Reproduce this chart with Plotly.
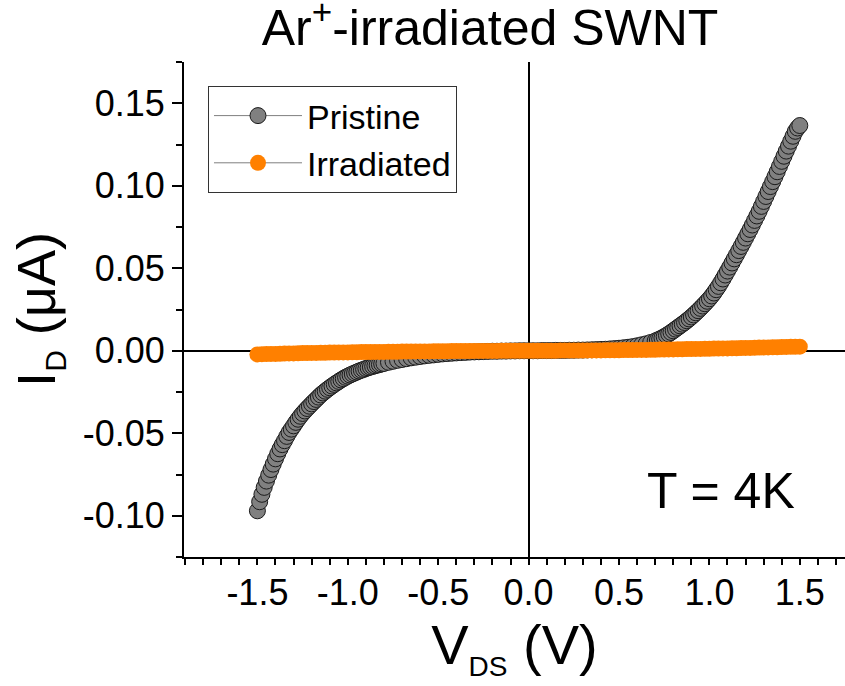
import plotly.graph_objects as go

# ---------------- data ----------------
# Pristine SWNT: sampled densely on the steep branches, coarser where flat
v_pristine = [
    -1.5000, -1.4875, -1.4750, -1.4625, -1.4500, -1.4375, -1.4250, -1.4125, -1.4000, -1.3875,
    -1.3750, -1.3625, -1.3500, -1.3375, -1.3250, -1.3125, -1.3000, -1.2875, -1.2750, -1.2625,
    -1.2500, -1.2375, -1.2250, -1.2125, -1.2000, -1.1875, -1.1750, -1.1625, -1.1500, -1.1375,
    -1.1250, -1.1125, -1.1000, -1.0875, -1.0750, -1.0625, -1.0500, -1.0375, -1.0250, -1.0125,
    -1.0000, -0.9875, -0.9750, -0.9625, -0.9500, -0.9375, -0.9250, -0.9125, -0.9000, -0.8875,
    -0.8750, -0.8625, -0.8500, -0.8375, -0.8250, -0.8125, -0.8000,
    -0.775, -0.750, -0.725, -0.700, -0.675, -0.650, -0.625, -0.600, -0.575, -0.550,
    -0.525, -0.500, -0.475, -0.450, -0.425, -0.400, -0.375, -0.350, -0.325, -0.300,
    -0.275, -0.250, -0.225, -0.200, -0.175, -0.150, -0.125, -0.100, -0.075, -0.050,
    -0.025, 0.000, 0.025, 0.050, 0.075, 0.100, 0.125, 0.150, 0.175, 0.200,
    0.225, 0.250, 0.275, 0.300, 0.325, 0.350, 0.375, 0.400, 0.425, 0.450,
    0.475, 0.500, 0.525, 0.550, 0.575, 0.600, 0.625, 0.650, 0.675,
    0.7000, 0.7125, 0.7250, 0.7375, 0.7500, 0.7625, 0.7750, 0.7875, 0.8000, 0.8125,
    0.8250, 0.8375, 0.8500, 0.8625, 0.8750, 0.8875, 0.9000, 0.9125, 0.9250, 0.9375,
    0.9500, 0.9625, 0.9750, 0.9875, 1.0000, 1.0125, 1.0250, 1.0375, 1.0500, 1.0625,
    1.0750, 1.0875, 1.1000, 1.1125, 1.1250, 1.1375, 1.1500, 1.1625, 1.1750, 1.1875,
    1.2000, 1.2125, 1.2250, 1.2375, 1.2500, 1.2625, 1.2750, 1.2875, 1.3000, 1.3125,
    1.3250, 1.3375, 1.3500, 1.3625, 1.3750, 1.3875, 1.4000, 1.4125, 1.4250, 1.4375,
    1.4500, 1.4625, 1.4750, 1.4875, 1.5000,
]

i_pristine = [
    -0.0970, -0.0915, -0.0870, -0.0828, -0.0790, -0.0754, -0.0720, -0.0687, -0.0655, -0.0624,
    -0.0595, -0.0569, -0.0545, -0.0519, -0.0495, -0.0475, -0.0455, -0.0434, -0.0415, -0.0397,
    -0.0380, -0.0365, -0.0350, -0.0336, -0.0322, -0.0308, -0.0295, -0.0281, -0.0268, -0.0256,
    -0.0245, -0.0234, -0.0224, -0.0214, -0.0204, -0.0195, -0.0186, -0.0177, -0.0169, -0.0161,
    -0.0154, -0.0147, -0.0141, -0.0135, -0.0129, -0.0123, -0.0118, -0.0113, -0.0108, -0.0103,
    -0.0099, -0.0095, -0.0091, -0.0087, -0.0084, -0.0080, -0.0077,
    -0.0070, -0.0064, -0.0058, -0.0053, -0.0048, -0.0043, -0.0039, -0.0035, -0.0031, -0.0028,
    -0.0025, -0.0022, -0.0019, -0.0017, -0.0015, -0.0013, -0.0011, -0.0010, -0.0008, -0.0007,
    -0.0006, -0.0005, -0.0004, -0.0003, -0.0003, -0.0002, -0.0002, -0.0001, -0.0001, 0.0000,
    0.0000, 0.0000, 0.0000, 0.0000, 0.0001, 0.0001, 0.0001, 0.0002, 0.0002, 0.0002,
    0.0003, 0.0003, 0.0004, 0.0004, 0.0005, 0.0006, 0.0007, 0.0008, 0.0009, 0.0011,
    0.0013, 0.0015, 0.0018, 0.0021, 0.0025, 0.0030, 0.0036, 0.0042, 0.0050,
    0.0059, 0.0065, 0.0071, 0.0078, 0.0085, 0.0093, 0.0102, 0.0111, 0.0121, 0.0131,
    0.0141, 0.0151, 0.0161, 0.0171, 0.0182, 0.0193, 0.0205, 0.0217, 0.0230, 0.0243,
    0.0257, 0.0271, 0.0285, 0.0300, 0.0315, 0.0332, 0.0350, 0.0370, 0.0390, 0.0412,
    0.0435, 0.0459, 0.0483, 0.0507, 0.0532, 0.0557, 0.0582, 0.0607, 0.0632, 0.0657,
    0.0683, 0.0709, 0.0735, 0.0762, 0.0790, 0.0817, 0.0845, 0.0875, 0.0905, 0.0935,
    0.0965, 0.0995, 0.1025, 0.1055, 0.1085, 0.1117, 0.1148, 0.1179, 0.1210, 0.1240,
    0.1270, 0.1300, 0.1330, 0.1350, 0.1365,
]

# Irradiated SWNT
v_irradiated = [
    -1.500, -1.475, -1.450, -1.425, -1.400, -1.375, -1.350, -1.325, -1.300, -1.275,
    -1.250, -1.225, -1.200, -1.175, -1.150, -1.125, -1.100, -1.075, -1.050, -1.025,
    -1.000, -0.975, -0.950, -0.925, -0.900, -0.875, -0.850, -0.825, -0.800, -0.775,
    -0.750, -0.725, -0.700, -0.675, -0.650, -0.625, -0.600, -0.575, -0.550, -0.525,
    -0.500, -0.475, -0.450, -0.425, -0.400, -0.375, -0.350, -0.325, -0.300, -0.275,
    -0.250, -0.225, -0.200, -0.175, -0.150, -0.125, -0.100, -0.075, -0.050, -0.025,
    0.000, 0.025, 0.050, 0.075, 0.100, 0.125, 0.150, 0.175, 0.200, 0.225,
    0.250, 0.275, 0.300, 0.325, 0.350, 0.375, 0.400, 0.425, 0.450, 0.475,
    0.500, 0.525, 0.550, 0.575, 0.600, 0.625, 0.650, 0.675, 0.700, 0.725,
    0.750, 0.775, 0.800, 0.825, 0.850, 0.875, 0.900, 0.925, 0.950, 0.975,
    1.000, 1.025, 1.050, 1.075, 1.100, 1.125, 1.150, 1.175, 1.200, 1.225,
    1.250, 1.275, 1.300, 1.325, 1.350, 1.375, 1.400, 1.425, 1.450, 1.475,
    1.500,
]

i_irradiated = [
    -0.0022, -0.0021, -0.0020, -0.0019, -0.0019, -0.0018, -0.0017, -0.0016, -0.0016, -0.0015,
    -0.0014, -0.0014, -0.0013, -0.0013, -0.0012, -0.0012, -0.0011, -0.0011, -0.0010, -0.0010,
    -0.0010, -0.0009, -0.0009, -0.0008, -0.0008, -0.0008, -0.0007, -0.0007, -0.0007, -0.0006,
    -0.0006, -0.0006, -0.0005, -0.0005, -0.0005, -0.0004, -0.0004, -0.0004, -0.0004, -0.0003,
    -0.0003, -0.0003, -0.0003, -0.0002, -0.0002, -0.0002, -0.0002, -0.0002, -0.0001, -0.0001,
    -0.0001, -0.0001, -0.0001, -0.0001, 0.0000, 0.0000, 0.0000, 0.0000, 0.0000, 0.0000,
    0.0000, 0.0000, 0.0000, 0.0000, 0.0000, 0.0000, 0.0000, 0.0001, 0.0001, 0.0001,
    0.0001, 0.0001, 0.0001, 0.0002, 0.0002, 0.0002, 0.0002, 0.0003, 0.0003, 0.0003,
    0.0003, 0.0004, 0.0004, 0.0004, 0.0005, 0.0005, 0.0005, 0.0006, 0.0006, 0.0007,
    0.0007, 0.0008, 0.0008, 0.0009, 0.0009, 0.0010, 0.0010, 0.0011, 0.0011, 0.0012,
    0.0012, 0.0013, 0.0013, 0.0014, 0.0014, 0.0015, 0.0015, 0.0016, 0.0017, 0.0017,
    0.0018, 0.0019, 0.0019, 0.0020, 0.0021, 0.0021, 0.0022, 0.0023, 0.0024, 0.0024,
    0.0025,
]

series_names = ["Pristine", "Irradiated"]

x_tick_vals = [-1.5, -1.0, -0.5, 0.0, 0.5, 1.0, 1.5]
x_tick_text = ["-1.5", "-1.0", "-0.5", "0.0", "0.5", "1.0", "1.5"]
y_tick_vals = [-0.10, -0.05, 0.00, 0.05, 0.10, 0.15]
y_tick_text = ["-0.10", "-0.05", "0.00", "0.05", "0.10", "0.15"]

X_RANGE = [-1.906, 1.75]
Y_RANGE = [-0.125, 0.175]

# ---------------- figure ----------------
FONT = "Liberation Sans, Arial, Helvetica, sans-serif"

fig = go.Figure()
fig.add_trace(go.Scatter(
    x=v_pristine, y=i_pristine, name=series_names[0], mode="lines+markers",
    line=dict(color="#7f7f7f", width=1),
    marker=dict(size=16, color="#808080", line=dict(color="#1a1a1a", width=1)),
))
fig.add_trace(go.Scatter(
    x=v_irradiated, y=i_irradiated, name=series_names[1], mode="lines+markers",
    line=dict(color="#7f7f7f", width=1),
    marker=dict(size=16, color="#FF8000", line=dict(width=0)),
))

fig.update_layout(
    width=845, height=686,
    margin=dict(l=184, r=0, t=62, b=129),
    paper_bgcolor="white", plot_bgcolor="white",
    font=dict(family=FONT, color="black"),
    showlegend=True,
    legend=dict(
        x=0.0363, y=0.9515, xanchor="left", yanchor="top",
        bordercolor="#333333", borderwidth=1, bgcolor="white",
        font=dict(family=FONT, size=34, color="black"),
        itemwidth=88, tracegroupgap=0,
    ),
    title=dict(
        text="Ar<sup>+</sup>-irradiated SWNT",
        font=dict(family=FONT, size=50, color="black"),
        x=0.463, xref="paper", xanchor="center",
        y=1 - 27 / 686, yref="container", yanchor="middle",
    ),
    # labelled x axis: short major ticks so labels sit close to the axis
    xaxis=dict(
        range=X_RANGE,
        showline=True, linecolor="black", linewidth=2,
        showgrid=False, zeroline=True, zerolinecolor="black", zerolinewidth=2,
        ticks="outside", ticklen=3, tickwidth=2, tickcolor="black",
        tickfont=dict(family=FONT, size=36, color="black"),
        tickmode="array", tickvals=x_tick_vals, ticktext=x_tick_text,
        minor=dict(dtick=0.1, tick0=0, ticklen=6, tickwidth=1.5,
                   ticks="outside", tickcolor="black", showgrid=False),
        title=dict(
            text="V<sub><span style='font-size:28px'>DS</span></sub> (V)",
            font=dict(family=FONT, size=56, color="black"),
            standoff=0,
        ),
    ),
    # overlay axis only for the long major tick marks
    xaxis2=dict(
        range=X_RANGE, overlaying="x", anchor="y", side="bottom",
        showline=False, showgrid=False, zeroline=False,
        ticks="outside", ticklen=10, tickwidth=2, tickcolor="black",
        tickmode="array", tickvals=x_tick_vals, showticklabels=False,
    ),
    yaxis=dict(
        range=Y_RANGE,
        showline=True, linecolor="black", linewidth=2,
        showgrid=False, zeroline=True, zerolinecolor="black", zerolinewidth=2,
        ticks="outside", ticklen=10, tickwidth=2, tickcolor="black",
        tickfont=dict(family=FONT, size=36, color="black"),
        tickmode="array", tickvals=y_tick_vals, ticktext=y_tick_text,
        minor=dict(dtick=0.025, tick0=0, ticklen=6, tickwidth=1.5,
                   ticks="outside", tickcolor="black", showgrid=False),
        title=dict(
            text="I<sub><span style='font-size:30px'>D</span></sub> (\u03bcA)",
            font=dict(family=FONT, size=54, color="black"),
            standoff=10,
        ),
    ),
)

fig.add_annotation(
    text="T = 4K", x=0.8124, y=0.133, xref="paper", yref="paper",
    xanchor="center", yanchor="middle", showarrow=False,
    font=dict(family=FONT, size=50, color="black"),
)

fig.write_html("out.html")
